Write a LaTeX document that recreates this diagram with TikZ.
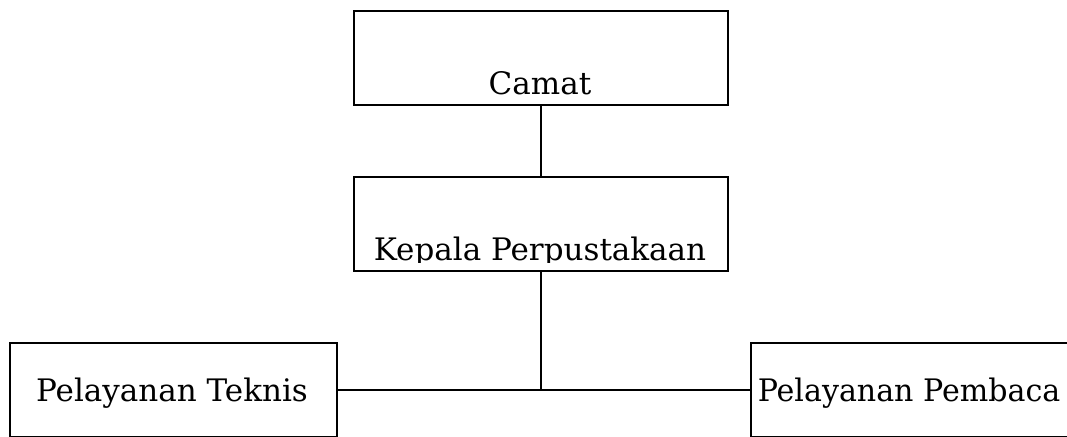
\documentclass[tikz,border=0pt]{standalone}
\usepackage{fontspec}
\setmainfont{DejaVu Serif}
\tikzset{
  box/.style={draw, line width=1.9pt, rectangle, minimum height=94pt, inner sep=0pt, anchor=north west},
  lbl/.style={inner sep=0pt, anchor=base, font=\fontsize{31}{34}\selectfont},
  conn/.style={line width=1.9pt},
}
\begin{document}
\begin{tikzpicture}[x=1pt,y=-1pt]
\useasboundingbox (0,0) rectangle (1067,436);
\clip (0,0) rectangle (1067,436);
\fill[white] (0,0) rectangle (1067,436);
\node[box, minimum width=374pt] (camat) at (353,10) {};
\node[box, minimum width=374pt] (kepala) at (353,176) {};
\node[box, minimum width=327pt] (teknis) at (9,342) {};
\node[box, minimum width=380pt] (pembaca) at (750,342) {};
\node[lbl] (tcamat) at (540,94) {Camat};
\begin{scope}
\clip (353,176) rectangle (727,262);
\node[lbl] (tkepala) at (540,260) {Kepala Perpustakaan};
\end{scope}
\node[lbl] (tteknis) at (172,401) {Pelayanan Teknis};
\node[lbl, xscale=0.97] (tpembaca) at (909,401) {Pelayanan Pembaca};
\draw[conn] (camat.south) -- (kepala.north);
\draw[conn] (kepala.south) -- (kepala.south |- teknis.east);
\draw[conn] (teknis.east) -- (pembaca.west);
\end{tikzpicture}
\end{document}
